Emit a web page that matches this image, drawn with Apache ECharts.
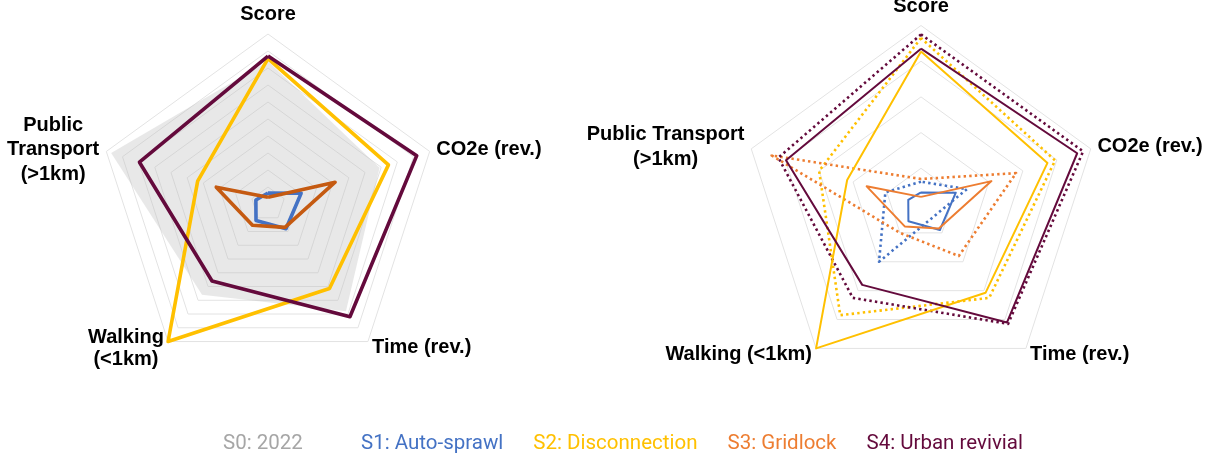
<!DOCTYPE html>
<html>
<head>
<meta charset="utf-8">
<script src="https://cdn.jsdelivr.net/npm/echarts@6/dist/echarts.min.js"></script>
<style>
html, body { margin: 0; padding: 0; background: #fff; }
#chart { width: 1212px; height: 456px; }
</style>
</head>
<body>
<div id="chart"></div>
<script>
// axes, listed clockwise from the top
var axisLeft = ['Score', 'CO2e (rev.)', 'Time (rev.)', 'Walking\n(<1km)', 'Public\nTransport\n(>1km)'];
var axisRight = ['Score', 'CO2e (rev.)', 'Time (rev.)', 'Walking (<1km)', 'Public Transport\n(>1km)'];
var scenarios = ['S0: 2022', 'S1: Auto-sprawl', 'S2: Disconnection', 'S3: Gridlock', 'S4: Urban revivial'];
var colors = ['#a6a6a6', '#4472c4', '#ffc000', '#ed7d31', '#640a3c'];

// values per axis (Score, CO2e, Time, Walking, PT), 0-100
var s0 = [84, 69, 78, 66, 97];
var s1 = [6.5, 20.5, 18, 12, 7.5];
var s2 = [85.5, 74.5, 61.5, 100, 43.5];
var s3 = [4, 41.5, 17, 15.5, 32];
var s4 = [87, 92, 82, 56, 79.5];
// dotted variants (right chart)
var s1b = [12.5, 27, 10, 40, 21];
var s2b = [93, 79, 65, 77, 60];
var s3b = [14, 56, 36, 20, 88];
var s4b = [95, 95.5, 83, 65, 84];

// echarts lays indicators out counter-clockwise
function ccw(a) { return [a[0], a[4], a[3], a[2], a[1]]; }

function indicators(names) {
	return ccw(names).map(function(n) { return { name: n, min: 0, max: 100 }; });
}

var FONT = '"Liberation Sans", Arial, sans-serif';
var measure = document.createElement('canvas').getContext('2d');
measure.font = 'bold 20px ' + FONT;

// multi-line names: every line is a rich token as wide as the longest line, centred
function nameStyle(names, pads) {
	var rich = {};
	names.forEach(function(n, i) {
		if (n.indexOf('\n') < 0) return;
		var w = Math.max.apply(null, n.split('\n').map(function(l) { return measure.measureText(l).width; }));
		var st = { width: Math.ceil(w), align: 'center', fontSize: 20, fontWeight: 'bold', fontFamily: FONT, lineHeight: 25, color: '#000' };
		rich['n' + i] = st;
		rich['f' + i] = echarts.util.extend({ padding: [pads[i] || 0, 0, 0, 0] }, st);
	});
	return {
		color: '#000',
		fontSize: 20,
		fontWeight: 'bold',
		fontFamily: FONT,
		lineHeight: 25,
		formatter: function(name) {
			var i = names.indexOf(name);
			if (name.indexOf('\n') < 0) return name;
			return name.split('\n').map(function(l, k) {
				return '{' + (k ? 'n' : 'f') + i + '|' + l + '}';
			}).join('\n');
		},
		rich: rich
	};
}

function radarBase(center, radius, split, names, gap, pads) {
	return {
		center: center,
		radius: radius,
		splitNumber: split,
		shape: 'polygon',
		nameGap: gap,
		indicator: indicators(names),
		axisName: nameStyle(names, pads),
		axisLine: { show: false },
		axisTick: { show: false },
		axisLabel: { show: false },
		splitArea: { show: false },
		splitLine: { lineStyle: { color: '#e3e3e3', width: 1 } }
	};
}

function line(radar, name, vals, color, width, type, z) {
	return {
		type: 'radar',
		radarIndex: radar,
		symbol: 'none',
		silent: true,
		z: z || 2,
		data: [{
			name: name,
			value: ccw(vals),
			lineStyle: { color: color, width: width, type: type || 'solid' },
			itemStyle: { color: color }
		}]
	};
}

var dots = [2.4, 3.2];

var series = [
	{
		type: 'radar', radarIndex: 0, symbol: 'none', silent: true, z: 1,
		data: [{
			name: scenarios[0], value: ccw(s0),
			lineStyle: { width: 0, color: 'rgba(190,190,190,0.5)' },
			areaStyle: { color: 'rgba(190,190,190,0.5)' },
			itemStyle: { color: colors[0] }
		}]
	},
	line(0, scenarios[1], s1, colors[1], 3.6),
	line(0, scenarios[2], s2, colors[2], 3.6),
	line(0, scenarios[3], s3, '#c55a11', 3.6),
	line(0, scenarios[4], s4, colors[4], 3.6),

	line(1, scenarios[1], s1b, colors[1], 2.6, dots),
	line(1, scenarios[2], s2b, colors[2], 2.6, dots),
	line(1, scenarios[3], s3b, colors[3], 2.6, dots),
	line(1, scenarios[4], s4b, colors[4], 2.6, dots),
	line(1, scenarios[1], s1, colors[1], 2),
	line(1, scenarios[2], s2, colors[2], 2),
	line(1, scenarios[3], s3, colors[3], 2),
	line(1, scenarios[4], s4, colors[4], 2)
];

function legend(left, names) {
	return {
		left: left,
		top: 428,
		selectedMode: false,
		itemWidth: 0,
		itemHeight: 0,
		itemGap: 25,
		icon: 'rect',
		data: names.map(function(n) {
			return { name: n, textStyle: { color: colors[scenarios.indexOf(n)] } };
		}),
		textStyle: { fontSize: 20.5, fontFamily: 'Roboto, sans-serif' }
	};
}

var chart = echarts.init(document.getElementById('chart'));
chart.setOption({
	animation: false,
	radar: [
		// walking / public transport labels get a little top padding
		radarBase([268, 204], 170, 10, axisLeft, 7, { 3: 6, 4: 2 }),
		radarBase([921, 204], 178.5, 5, axisRight, 7, {})
	],
	legend: [
		legend(213, scenarios.slice(0, 1)),
		legend(351, scenarios.slice(1))
	],
	series: series
});
</script>
</body>
</html>
